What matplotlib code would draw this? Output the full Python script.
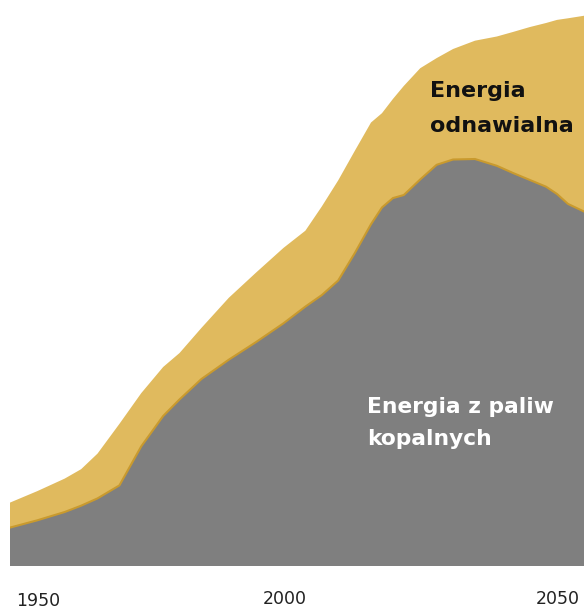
import matplotlib.pyplot as plt

# years sampled along the curves
years = [1950, 1955, 1960, 1963, 1966, 1970, 1974, 1978, 1981, 1985, 1990,
         1995, 2000, 2004, 2007, 2010, 2013, 2016, 2018, 2020, 2022, 2025,
         2028, 2031, 2035, 2039, 2042, 2045, 2048, 2050, 2052, 2055]

# energy from fossil fuels (arbitrary units)
fossil = [38.4, 45.7, 54.0, 60.3, 67.6, 80.6, 119.7, 150.0, 166.6, 187.0, 206.3,
          224.0, 242.7, 259.4, 270.9, 285.5, 312.6, 341.8, 358.5, 367.9, 371.0, 386.6,
          401.2, 406.5, 407.0, 400.2, 392.9, 386.1, 379.3, 372.0, 362.1, 354.3]

# renewable energy stacked on top
renewable = [25.0, 29.2, 33.4, 36.5, 44.8, 61.5, 53.2, 49.0, 46.4, 51.1, 61.9,
             69.5, 75.4, 75.9, 88.6, 100.1, 102.2, 101.7, 94.3, 99.1, 109.1, 111.2,
             106.7, 110.5, 118.3, 129.3, 141.2, 152.8, 163.7, 174.1, 185.6, 196.0]

tick_years = [1950, 2000, 2050]
tick_labels = ["1950", "2000", "2050"]

gold = "#E0BA5E"
grey = "#7F7F7F"

fig = plt.figure(figsize=(5.84, 6.09), dpi=100)
ax = fig.add_axes([10 / 584, 43 / 609, 574 / 584, 566 / 609])

ax.stackplot(years, fossil, renewable, colors=[grey, gold], linewidth=0)
ax.plot(years, fossil, color="#C99A2E", linewidth=1.5)

ax.set_xlim(1950, 1950 + 574 / 5.47)
ax.set_ylim(0, 566)
ax.axis("off")

# labels inside the areas, one line each
ax.text(2026.8, 469, "Energia", fontsize=16, fontweight="bold",
        color="#111111", va="baseline", ha="left")
ax.text(2026.8, 434, "odnawialna", fontsize=16, fontweight="bold",
        color="#111111", va="baseline", ha="left")
ax.text(2015.2, 153, "Energia z paliw", fontsize=15.7, fontweight="bold",
        color="white", va="baseline", ha="left")
ax.text(2015.2, 121, "kopalnych", fontsize=15.7, fontweight="bold",
        color="white", va="baseline", ha="left")

for yr, lab in zip(tick_years, tick_labels):
    if yr == 1950:
        ax.text(1951.2, -34.5, lab, fontsize=12.5, ha="left", va="center",
                color="#222222", clip_on=False)
    else:
        ax.text(yr + 0.2, -32.5, lab, fontsize=12.5, ha="center", va="center",
                color="#222222", clip_on=False)

fig.savefig("out.png", dpi=100)
